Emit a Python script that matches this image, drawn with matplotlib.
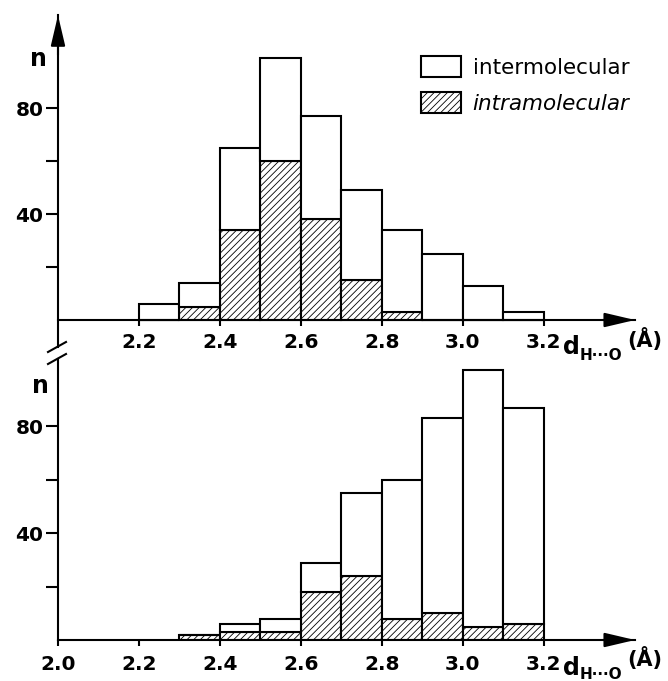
import matplotlib
matplotlib.use("Agg")
import matplotlib.pyplot as plt
from matplotlib.patches import Patch
from matplotlib.lines import Line2D

# ---------------- data ----------------
bin_width = 0.1
top_bins = [2.2, 2.3, 2.4, 2.5, 2.6, 2.7, 2.8, 2.9, 3.0, 3.1]
top_intra = [0, 5, 34, 60, 38, 15, 3, 0, 0, 0]
top_inter = [6, 9, 31, 39, 39, 34, 31, 25, 13, 3]

bottom_bins = [2.3, 2.4, 2.5, 2.6, 2.7, 2.8, 2.9, 3.0, 3.1]
bottom_intra = [2, 3, 3, 18, 24, 8, 10, 5, 6]
bottom_inter = [0, 3, 5, 11, 31, 52, 73, 96, 81]

top_xticks = [2.2, 2.4, 2.6, 2.8, 3.0, 3.2]
bottom_xticks = [2.0, 2.2, 2.4, 2.6, 2.8, 3.0, 3.2]
yticks = [20, 40, 60, 80]
ytick_labels = ["", "40", "", "80"]
legend_labels = ["intermolecular", "intramolecular"]

# ---------------- style ----------------
plt.rcParams["font.family"] = ["DejaVu Sans"]
plt.rcParams["hatch.linewidth"] = 0.6
LW = 1.5
HATCH = "/////"

W, H = 668, 681
fig = plt.figure(figsize=(W / 100, H / 100), dpi=100)


def pix_rect(x0, x1, y_top, y_bot):
    return [x0 / W, 1 - y_bot / H, (x1 - x0) / W, (y_bot - y_top) / H]


XLIM = (2.0, 3.425)


def make_axes(base_px, ppu, ylo, yhi):
    rect = pix_rect(58, 635, base_px - yhi * ppu, base_px - ylo * ppu)
    ax = fig.add_axes(rect)
    ax.set_xlim(*XLIM)
    ax.set_ylim(ylo, yhi)
    ax.patch.set_alpha(0)
    for s in ["top", "right"]:
        ax.spines[s].set_visible(False)
    ax.spines["bottom"].set_position(("data", 0))
    for s in ["left", "bottom"]:
        ax.spines[s].set_linewidth(LW)
    ax.tick_params(axis="x", direction="out", length=4, width=LW, labelsize=14.5)
    ax.tick_params(axis="y", direction="out", length=9, width=LW, labelsize=14.5, pad=1.5)
    ax.set_yticks(yticks)
    ax.set_yticklabels(ytick_labels, fontweight="bold")
    # x-axis arrow
    ax.annotate("", xy=(XLIM[1], 0), xytext=(XLIM[1] - 0.08, 0),
                arrowprops=dict(arrowstyle="-|>,head_length=0.85,head_width=0.2",
                                mutation_scale=22, color="k", lw=LW,
                                shrinkA=0, shrinkB=0),
                annotation_clip=False)
    return ax


def draw_hist(ax, bins, intra, inter):
    ax.bar(bins, intra, width=bin_width, align="edge", facecolor="white",
           edgecolor="k", hatch=HATCH, lw=LW, zorder=2)
    ax.bar(bins, inter, bottom=intra, width=bin_width, align="edge",
           facecolor="white", edgecolor="k", lw=LW, zorder=2)


# ---- top panel ----
ax1 = make_axes(320, 2.65, -10.2, 115)
draw_hist(ax1, top_bins, top_intra, top_inter)
ax1.set_xticks(top_xticks)
ax1.set_xticklabels([f"{t:.1f}" for t in top_xticks], fontweight="bold")
ax1.tick_params(axis="x", pad=5)
ax1.annotate("", xy=(2.0, 115), xytext=(2.0, 100),
             arrowprops=dict(arrowstyle="-|>,head_length=0.85,head_width=0.2",
                             mutation_scale=22, color="k", lw=LW,
                             shrinkA=0, shrinkB=0),
             annotation_clip=False)

# ---- bottom panel ----
ax2 = make_axes(640, 2.67, 0, 105.2)
draw_hist(ax2, bottom_bins, bottom_intra, bottom_inter)
ax2.set_xticks(bottom_xticks)
ax2.set_xticklabels([f"{t:.1f}" for t in bottom_xticks], fontweight="bold")
ax2.tick_params(axis="x", pad=7)

# ---- axis break marks ----
for yc in (347, 359):
    fig.add_artist(Line2D([48 / W, 66 / W], [1 - (yc + 5) / H, 1 - (yc - 5) / H],
                          color="k", lw=LW))

# ---- axis titles ----
def ptext(x, y, s, **kw):
    fig.text(x / W, 1 - y / H, s, va="baseline", ha="left", **kw)

ptext(30, 66, "n", fontsize=17, fontweight="bold")
ptext(32, 393, "n", fontsize=17, fontweight="bold")

for base_d, base_sub, base_a in ((354, 360, 347), (675, 679, 666)):
    ptext(563, base_d, "d", fontsize=17, fontweight="bold")
    ptext(580, base_sub, "H\u00b7\u00b7\u00b7O", fontsize=11, fontweight="bold")
    ptext(627, base_a, "(Å)", fontsize=15, fontweight="bold")

# ---- legend ----
handles = [Patch(facecolor="white", edgecolor="k", lw=LW),
           Patch(facecolor="white", edgecolor="k", lw=LW, hatch=HATCH)]
leg = fig.legend(handles, legend_labels, loc="upper left",
                 bbox_to_anchor=(421 / W, 1 - 56 / H), frameon=False,
                 borderpad=0, borderaxespad=0, fontsize=15.5,
                 handlelength=1.85, handleheight=1.15, handletextpad=0.55,
                 labelspacing=0.65)
leg.get_texts()[1].set_fontstyle("italic")

fig.savefig("out.png", dpi=100)
